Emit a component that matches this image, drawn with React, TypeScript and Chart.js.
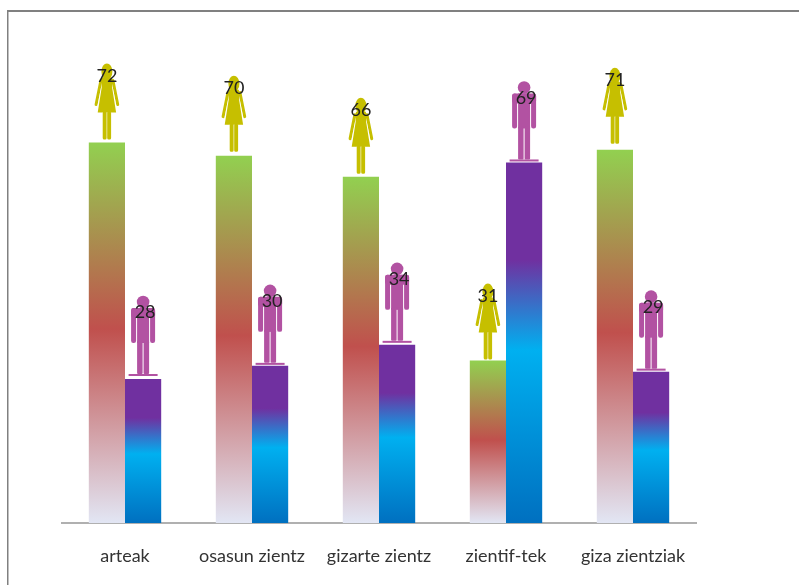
import React, { useEffect, useRef } from "react";
import { Chart, registerables } from "chart.js";

Chart.register(...registerables);

const categories = ["arteak", "osasun zientz", "gizarte zientz", "zientif-tek", "giza zientziak"];
const emakumeak = [72.4, 69.9, 65.9, 30.9, 71];
const gizonak = [27.4, 29.9, 33.9, 68.6, 28.8];
const emakumeakLabels = ["72", "70", "66", "31", "71"];
const gizonakLabels = ["28", "30", "34", "69", "29"];

const femaleLift = [3, 4, 3, 1, 6];
const maleLift = [3, 1, 2, 1, 1];

const FEMALE = "#c6bf00";
const MALE = "#b252a2";

const greenStops: [number, string][] = [
  [0, "#92d050"],
  [0.49, "#c0504d"],
  [1, "#e2e6f4"],
];
const blueStops: [number, string][] = [
  [0, "#7030a0"],
  [0.27, "#7030a0"],
  [0.52, "#00b0f0"],
  [1, "#0070c0"],
];

function gradient(c: any, stops: [number, string][]) {
  const y = c.chart.scales?.y;
  const top = y ? y.getPixelForValue(c.raw) : NaN;
  const base = y ? y.getPixelForValue(0) : NaN;
  if (!Number.isFinite(top) || !Number.isFinite(base)) return stops[0][1];
  const g = c.chart.ctx.createLinearGradient(0, top, 0, base);
  stops.forEach(([o, col]) => g.addColorStop(o, col));
  return g;
}

function drawFemale(ctx: CanvasRenderingContext2D, cx: number, feet: number) {
  const top = feet - 76;
  ctx.fillStyle = FEMALE;
  ctx.strokeStyle = FEMALE;
  // head
  ctx.beginPath();
  ctx.ellipse(cx, top + 8, 5.5, 8, 0, 0, Math.PI * 2);
  ctx.fill();
  // arms
  ctx.lineWidth = 3;
  ctx.lineCap = "round";
  ctx.beginPath();
  ctx.moveTo(cx - 6, top + 17);
  ctx.lineTo(cx - 10.8, top + 41);
  ctx.moveTo(cx + 6, top + 17);
  ctx.lineTo(cx + 10.8, top + 41);
  ctx.stroke();
  // white gap between arm and dress
  ctx.strokeStyle = "#ffffff";
  ctx.lineWidth = 0.8;
  ctx.lineCap = "butt";
  ctx.beginPath();
  ctx.moveTo(cx - 5.4, top + 24);
  ctx.lineTo(cx - 8.9, top + 42);
  ctx.moveTo(cx + 5.4, top + 24);
  ctx.lineTo(cx + 8.9, top + 42);
  ctx.stroke();
  // dress
  ctx.beginPath();
  ctx.moveTo(cx - 5, top + 14);
  ctx.lineTo(cx + 5, top + 14);
  ctx.lineTo(cx + 5.2, top + 24);
  ctx.lineTo(cx + 9.2, top + 49);
  ctx.lineTo(cx - 9.2, top + 49);
  ctx.lineTo(cx - 5.2, top + 24);
  ctx.closePath();
  ctx.fill();
  // legs
  ctx.beginPath();
  ctx.roundRect(cx - 4.2, top + 48, 3.9, 28, 1.5);
  ctx.roundRect(cx + 0.3, top + 48, 3.9, 28, 1.5);
  ctx.fill();
}

function drawMale(ctx: CanvasRenderingContext2D, cx: number, feet: number) {
  const top = feet - 81;
  ctx.fillStyle = MALE;
  // head
  ctx.beginPath();
  ctx.arc(cx, top + 7, 6.3, 0, Math.PI * 2);
  ctx.fill();
  // shoulders
  ctx.beginPath();
  ctx.roundRect(cx - 12, top + 13, 24, 10, 3);
  ctx.fill();
  // arms
  ctx.beginPath();
  ctx.roundRect(cx - 12, top + 13, 5, 35, 2.2);
  ctx.roundRect(cx + 7, top + 13, 5, 35, 2.2);
  ctx.fill();
  // body and legs
  ctx.fillRect(cx - 6, top + 13, 12, 35);
  ctx.beginPath();
  ctx.roundRect(cx - 6, top + 46, 5.5, 33, 1);
  ctx.roundRect(cx + 0.5, top + 46, 5.5, 33, 1);
  ctx.fill();
  // base line
  ctx.fillRect(cx - 14.5, top + 79, 29, 2);
}

const pictograms = {
  id: "pictograms",
  afterDatasetsDraw(chart: any) {
    const { ctx } = chart;
    ctx.save();
    ctx.fillStyle = "#808080";
    ctx.fillRect(7, 10, 792, 2);
    ctx.fillRect(7, 10, 1.5, 575);
    chart.data.datasets.forEach((_ds: any, di: number) => {
      chart.getDatasetMeta(di).data.forEach((bar: any, i: number) => {
        const feet = bar.y - (di === 0 ? femaleLift[i] : maleLift[i]);
        if (di === 0) drawFemale(ctx, bar.x, feet);
        else drawMale(ctx, bar.x, feet);
        ctx.fillStyle = "#222222";
        ctx.font = "18px Lato";
        ctx.textAlign = "center";
        ctx.textBaseline = "middle";
        ctx.fillText(di === 0 ? emakumeakLabels[i] : gizonakLabels[i], bar.x + (di === 0 ? 0 : 2), feet - 63.5);
      });
    });
    ctx.restore();
  },
};

export default function App() {
  const ref = useRef<HTMLCanvasElement>(null);
  useEffect(() => {
    document.body.style.margin = "0";
    const chart = new Chart(ref.current!, {
      type: "bar",
      plugins: [pictograms],
      data: {
        labels: categories,
        datasets: [
          {
            label: "emakumeak",
            data: emakumeak,
            backgroundColor: (c: any) => gradient(c, greenStops),
          },
          {
            label: "gizonak",
            data: gizonak,
            backgroundColor: (c: any) => gradient(c, blueStops),
          },
        ],
      },
      options: {
        responsive: false,
        animation: false,
        layout: { padding: { left: 61.5, right: 102.5, top: 50, bottom: 0 } },
        plugins: { legend: { display: false }, tooltip: { enabled: false } },
        datasets: { bar: { categoryPercentage: 0.57, barPercentage: 1 } },
        scales: {
          x: {
            afterFit: (s: any) => {
              s.height = 62;
            },
            grid: { display: false, drawTicks: false },
            border: { color: "#b0b0b0", width: 2 },
            ticks: { color: "#333333", font: { family: "Lato", size: 18 }, padding: 22, maxRotation: 0, autoSkip: false },
          },
          y: { display: false, min: 0, max: 90 },
        },
      },
    });
    return () => chart.destroy();
  }, []);
  return <canvas ref={ref} width={799} height={585} style={{ display: "block" }} />;
}
